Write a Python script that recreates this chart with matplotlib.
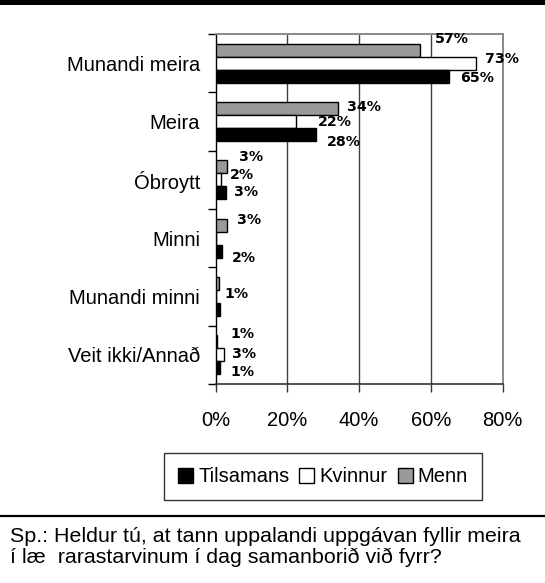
import matplotlib
matplotlib.use("Agg")
import matplotlib.pyplot as plt
from matplotlib.patches import Rectangle, Patch
from matplotlib.lines import Line2D
import numpy as np

# ---- data ----
categories = ["Munandi meira", "Meira", "Óbroytt", "Minni", "Munandi minni", "Veit ikki/Annað"]
menn = [57, 34, 3.3, 3.3, 1.0, 0.3]
kvinnur = [72.6, 22.4, 1.6, 0, 0, 2.4]
tilsamans = [65, 28, 2.9, 1.7, 1.2, 1.2]
menn_labels = ["57%", "34%", "3%", "3%", "1%", "1%"]
kvinnur_labels = ["73%", "22%", "2%", "", "", "3%"]
tilsamans_labels = ["65%", "28%", "3%", "2%", "", "1%"]
x_ticks = [0, 20, 40, 60, 80]
x_ticklabels = ["0%", "20%", "40%", "60%", "80%"]
footer = "Sp.: Heldur tú, at tann uppalandi uppgávan fyllir meira\ní læ  rarastarvinum í dag samanborið við fyrr?"

# ---- label offsets (pixels: dx right, dy down) ----
menn_off = [(15, -11), (9, -2), (12, -10), (10, -5), (5, 10), (14, -8)]
kvinnur_off = [(9, -4), (22, 0), (9, -4.5), (0, 0), (0, 0), (8, -1)]
tilsamans_off = [(11, 2), (11, 7.5), (8, -1), (10, 7), (0, 0), (11, 4)]

plt.rcParams['font.family'] = ['Liberation Sans', 'DejaVu Sans']

W, H = 545, 583
fig = plt.figure(figsize=(W / 100, H / 100), dpi=100)
ax = fig.add_axes([215.5 / W, 1 - 384 / H, (502.7 - 215.5) / W, (384 - 34) / H])

y = np.arange(len(categories))
bh = 12.9 / 58.2
series = [
    (menn, menn_labels, menn_off, "#999999", -bh, "Menn"),
    (kvinnur, kvinnur_labels, kvinnur_off, "white", 0.0, "Kvinnur"),
    (tilsamans, tilsamans_labels, tilsamans_off, "black", bh, "Tilsamans"),
]
for vals, labs, offs, col, dy, name in series:
    ax.barh(y + dy, vals, height=bh, color=col, edgecolor="black", linewidth=1.0, zorder=3)
    for yi, v, lab, (ox, oy) in zip(y, vals, labs, offs):
        if lab:
            ax.annotate(lab, xy=(v, yi + dy), xytext=(ox, -oy), textcoords="offset pixels",
                        ha="left", va="center", fontsize=10.2, fontweight="bold",
                        family="DejaVu Sans", color="black", zorder=5,
                        annotation_clip=False)

ax.set_xlim(0, 80)
ax.set_ylim(len(categories) - 0.5, -0.5)
ax.set_xticks(x_ticks)
ax.set_xticklabels(x_ticklabels, fontsize=14.5)
ax.set_yticks(y)
ax.set_yticklabels(categories, fontsize=14.5)
ax.set_yticks(np.arange(-0.5, len(categories), 1.0), minor=True)
ax.tick_params(axis="y", which="major", length=0, pad=11)
ax.tick_params(axis="y", which="minor", length=6, width=1, direction="out", color="black")
ax.tick_params(axis="x", which="major", length=6, width=1, direction="out", pad=13.5, color="#333333")

for gx in [20, 40, 60]:
    ax.axvline(gx, color="#404040", linewidth=1.0, zorder=1)

ax.spines["left"].set_color("black")
ax.spines["left"].set_linewidth(1.0)
ax.spines["bottom"].set_color("#333333")
ax.spines["bottom"].set_linewidth(1.2)
ax.spines["top"].set_color("#888888")
ax.spines["top"].set_linewidth(1.4)
ax.spines["right"].set_color("#888888")
ax.spines["right"].set_linewidth(1.4)

# legend
handles = [Patch(facecolor="black", edgecolor="black", label="Tilsamans"),
           Patch(facecolor="white", edgecolor="black", label="Kvinnur"),
           Patch(facecolor="#999999", edgecolor="black", label="Menn")]
leg = fig.legend(handles=handles, loc="center", bbox_to_anchor=(323 / W, 1 - 476.7 / H),
                 ncol=3, fontsize=14.5, frameon=True, fancybox=False,
                 handlelength=0.75, handleheight=0.75, handletextpad=0.25,
                 columnspacing=0.5, borderpad=0.7, borderaxespad=0)
leg.get_frame().set_edgecolor("black")
leg.get_frame().set_linewidth(1.0)

# top black band
fig.patches.append(Rectangle((0, 1 - 5 / H), 1, 5 / H, transform=fig.transFigure,
                             facecolor="black", edgecolor="none"))
# footer rule
fig.add_artist(Line2D([0, 1], [1 - 516 / H, 1 - 516 / H], transform=fig.transFigure,
                      color="black", linewidth=1.6))
fig.text(10 / W, 1 - 527 / H, footer, ha="left", va="top", fontsize=15.4, linespacing=1.08)

fig.savefig("out.png", dpi=100)
